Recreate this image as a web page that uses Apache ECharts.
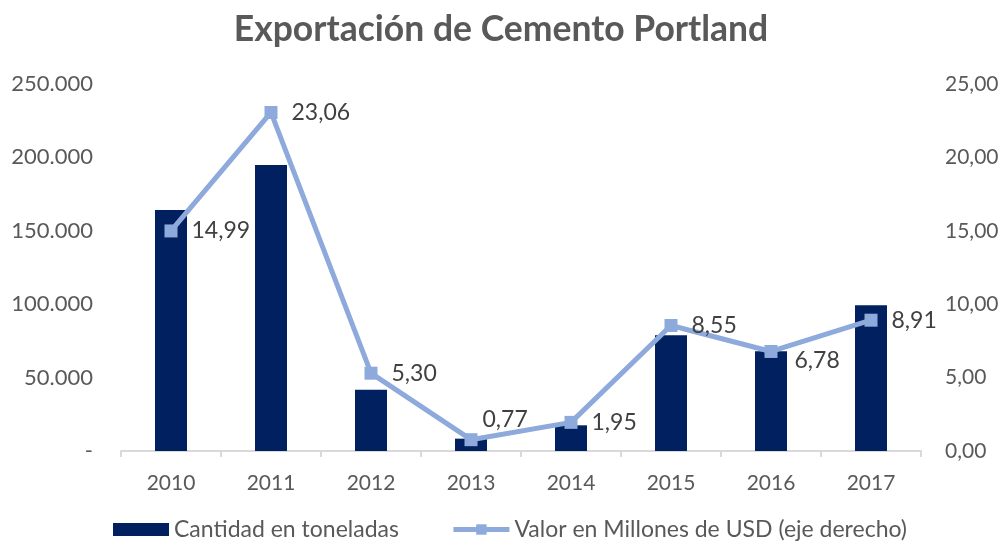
<!DOCTYPE html>
<html>
<head>
<meta charset="utf-8">
<script src="https://cdn.jsdelivr.net/npm/echarts@6/dist/echarts.min.js"></script>
<style>
  html, body { margin: 0; padding: 0; background: #fff; }
  #main { width: 1002px; height: 548px; }
</style>
</head>
<body>
<div id="main"></div>
<script type="text/javascript">
// data
var years = ['2010', '2011', '2012', '2013', '2014', '2015', '2016', '2017'];
var toneladas = [164200, 194800, 41800, 8400, 17500, 78800, 68000, 99300];
var valorUSD = [14.99, 23.06, 5.30, 0.77, 1.95, 8.55, 6.78, 8.91];

var fontName = 'Lato, "Open Sans", sans-serif';

// a couple of labels sit off the default spot in the original
var labelShift = { '2013': [-9, -20], '2016': [3, 9] };

function fmtMiles(v) {
    if (v === 0) return '-';
    return String(v).replace(/\B(?=(\d{3})+(?!\d))/g, '.');
}
function fmtComa(v) {
    return v.toFixed(2).replace('.', ',');
}

var myChart = echarts.init(document.getElementById('main'));

var option = {
    animation: false,
    title: {
        text: 'Exportación de Cemento Portland',
        left: 'center',
        top: 7,
        textStyle: { fontFamily: fontName, fontSize: 35.5, fontWeight: 'bold', color: '#595959' }
    },
    legend: {
        bottom: 2,
        left: 108,
        itemGap: 52,
        itemWidth: 56,
        itemHeight: 13,
        textStyle: { fontFamily: fontName, fontSize: 23, color: '#595959' },
        data: [
            { name: 'Cantidad en toneladas', icon: 'rect' },
            { name: 'Valor en Millones de USD (eje derecho)', lineStyle: { width: 5 } }
        ]
    },
    grid: { left: 121, right: 81, top: 84, bottom: 97 },
    xAxis: {
        type: 'category',
        data: years,
        axisLine: { lineStyle: { color: '#d9d9d9', width: 2 } },
        axisTick: { show: true, length: 6, lineStyle: { color: '#d9d9d9', width: 2 } },
        axisLabel: { fontFamily: fontName, fontSize: 21, color: '#595959', margin: 22 }
    },
    yAxis: [
        {
            type: 'value',
            min: 0, max: 250000, interval: 50000,
            splitLine: { show: false },
            axisLine: { show: false },
            axisTick: { show: false },
            axisLabel: {
                fontFamily: fontName, fontSize: 22, color: '#595959', margin: 28,
                formatter: fmtMiles
            }
        },
        {
            type: 'value',
            min: 0, max: 25, interval: 5,
            splitLine: { show: false },
            axisLine: { show: false },
            axisTick: { show: false },
            axisLabel: {
                fontFamily: fontName, fontSize: 21, color: '#595959', margin: 24,
                formatter: fmtComa
            }
        }
    ],
    series: [
        {
            name: 'Cantidad en toneladas',
            type: 'bar',
            data: toneladas,
            barWidth: 32,
            itemStyle: { color: '#002060' }
        },
        {
            name: 'Valor en Millones de USD (eje derecho)',
            type: 'line',
            yAxisIndex: 1,
            data: valorUSD.map(function (v, i) {
                var shift = labelShift[years[i]];
                return shift ? { value: v, label: { offset: shift } } : v;
            }),
            symbol: 'rect',
            symbolSize: 13,
            lineStyle: { color: '#8EA9DB', width: 5 },
            itemStyle: { color: '#8EA9DB' },
            label: {
                show: true,
                position: 'right',
                distance: 14,
                fontFamily: fontName,
                fontSize: 23,
                color: '#404040',
                formatter: function (p) { return fmtComa(p.value); }
            }
        }
    ]
};

myChart.setOption(option);
</script>
</body>
</html>
